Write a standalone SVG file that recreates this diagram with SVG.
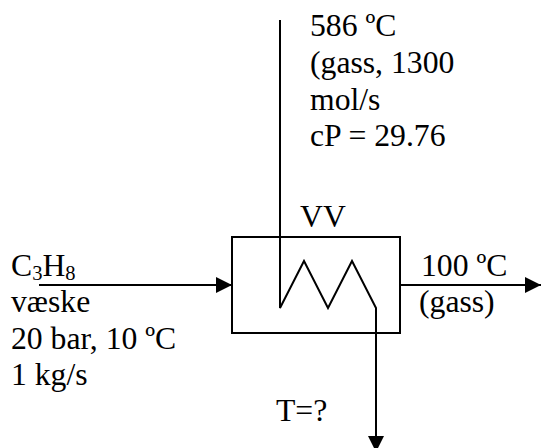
<svg xmlns="http://www.w3.org/2000/svg" width="541" height="448" viewBox="0 0 541 448">
<style>
text{font-family:"Liberation Serif","Times New Roman",serif;font-size:31.7px;fill:#000}
.l{fill:none;stroke:#000;stroke-width:2}
.s{font-size:20.5px}
</style>
<defs><marker id="a" markerUnits="userSpaceOnUse" markerWidth="16" markerHeight="16" refX="16" refY="8" orient="auto"><path d="M0 0L16 8L0 16Z" fill="#000"/></marker></defs>
<rect width="541" height="448" fill="#fff"/>
<g id="connectors">
<path class="l" d="M39 285H232" marker-end="url(#a)"/>
<path class="l" d="M400 285H541" marker-end="url(#a)"/>
<path class="l" d="M280 20V308L304 261L328 308L352 261L376 308V452" marker-end="url(#a)"/>
</g>
<g id="vv"><rect class="l" x="232" y="237" width="168" height="96"/><text x="300" y="227">VV</text></g>
<g id="hot-in"><text x="310" y="36">586 ºC</text><text x="310" y="73">(gass, 1300</text><text x="310" y="110">mol/s</text><text x="310" y="146">cP = 29.76</text></g>
<g id="feed"><text x="11" y="276">C<tspan class="s" dy="4">3</tspan><tspan dy="-4">H</tspan><tspan class="s" dy="4">8</tspan></text><text x="11" y="312">væske</text><text x="11" y="349">20 bar, 10 ºC</text><text x="11" y="385">1 kg/s</text></g>
<g id="out"><text x="421" y="276">100 ºC</text><text x="419" y="312">(gass)</text></g>
<g id="t"><text x="276" y="421">T=?</text></g>
</svg>
